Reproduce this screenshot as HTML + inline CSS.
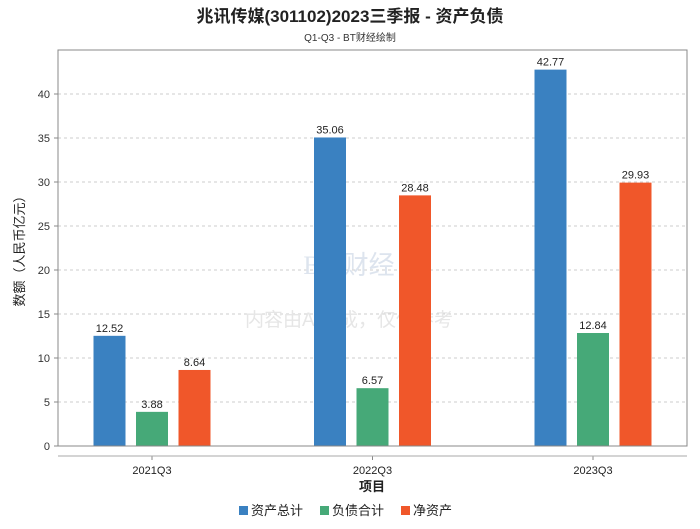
<!DOCTYPE html>
<html><head><meta charset="utf-8"><style>
body{margin:0;background:#fff;font-family:"Liberation Sans","Noto Sans CJK SC",sans-serif}
</style></head><body>
<svg id="c" width="700" height="524" xmlns="http://www.w3.org/2000/svg">
<rect width="700" height="524" fill="#fff"/>
<text x="350" y="22" text-anchor="middle" font-size="17" font-weight="bold" fill="#222" font-family="Liberation Sans,Noto Sans CJK SC,sans-serif">兆讯传媒(301102)2023三季报 - 资产负债</text>
<text x="350" y="41" text-anchor="middle" font-size="10" fill="#333" font-family="Liberation Sans,Noto Sans CJK SC,sans-serif">Q1-Q3 - BT财经绘制</text>
<g id="grid"></g>
<text x="349" y="274" text-anchor="middle" font-size="26" fill="#dde4ee" font-family="Liberation Serif,serif">BT 财经</text>
<text x="349" y="326" text-anchor="middle" font-size="19" fill="#e6e6e6" font-family="Liberation Sans,Noto Sans CJK SC,sans-serif">内容由AI生成，仅供参考</text>
<g id="bars"></g>
<rect x="58" y="50" width="629" height="396" fill="none" stroke="#888"/>
<line x1="58" y1="456" x2="687" y2="456" stroke="#aaa"/>
<text transform="translate(24,248) rotate(-90)" text-anchor="middle" font-size="13" fill="#222" font-family="Liberation Sans,Noto Sans CJK SC,sans-serif">数额（人民币亿元）</text>
<text x="372" y="491" text-anchor="middle" font-size="13" font-weight="bold" fill="#222" font-family="Liberation Sans,Noto Sans CJK SC,sans-serif">项目</text>
<g id="legend"></g>
</svg>
<script>
const categories=["2021Q3","2022Q3","2023Q3"];
const seriesNames=["资产总计","负债合计","净资产"];
const assets=[12.52,35.06,42.77];
const liabilities=[3.88,6.57,12.84];
const equity=[8.64,28.48,29.93];
const yTicks=[0,5,10,15,20,25,30,35,40];
const colors=["#3a81c1","#46a978","#f0572a"];
const NS="http://www.w3.org/2000/svg";
const L=58,R=687,T=50,B=446,yMax=45;
const y=v=>B-(v/yMax)*(B-T);
const gw=220.5;
const x=i=>372.5+gw*(i-(categories.length-1)/2);
function mk(tag,attrs,parent,text){const e=document.createElementNS(NS,tag);for(const k in attrs)e.setAttribute(k,attrs[k]);if(text!==undefined)e.textContent=text;parent.appendChild(e);return e;}
const grid=document.getElementById('grid');
yTicks.forEach(t=>{
  if(t>0){const gl=mk('line',{x1:L,x2:R,y1:y(t),y2:y(t),stroke:'#ccc','stroke-dasharray':'3,3'},grid);
  
  }
  const tk=mk('line',{x1:L-4,x2:L,y1:y(t),y2:y(t),stroke:'#888'},grid);
  
  
  const tl=mk('text',{x:L-8,y:y(t)+4,'text-anchor':'end','font-size':11,fill:'#333'},grid,String(t));
  
  
});
const bars=document.getElementById('bars');
const series=[assets,liabilities,equity];
const bw=32,step=42.5;
categories.forEach((c,i)=>{
  series.forEach((s,j)=>{
    const cx=x(i)+(j-1)*step;
    const r=mk('rect',{x:cx-bw/2,y:y(s[i]),width:bw,height:B-y(s[i]),fill:colors[j]},bars);
    
    
    const lb=mk('text',{x:cx,y:y(s[i])-4,'text-anchor':'middle','font-size':11,fill:'#222'},bars,s[i].toFixed(2));
    
    
  });
  const tk=mk('line',{x1:x(i),x2:x(i),y1:456,y2:460,stroke:'#888'},bars);
  
  
  const xl=mk('text',{x:x(i),y:474,'text-anchor':'middle','font-size':11,fill:'#222'},bars,c);
  
  
});
const lg=document.getElementById('legend');
const lx=[239,320,401];
seriesNames.forEach((n,j)=>{
  const g=mk('g',{},lg);
  
  
  mk('rect',{x:lx[j],y:506,width:9,height:9,fill:colors[j]},g);
  mk('text',{x:lx[j]+12,y:515,'font-size':13,fill:'#222'},g,n);
});
</script>
</body></html>
